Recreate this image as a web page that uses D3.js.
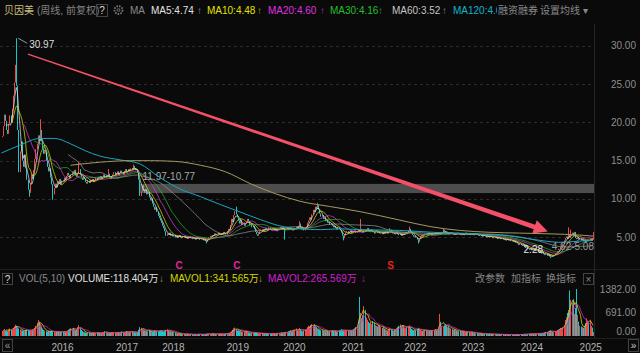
<!DOCTYPE html>
<html>
<head>
<meta charset="utf-8">
<script src="https://cdn.jsdelivr.net/npm/d3@7"></script>
<style>
body { margin: 0; background: #0a0a0a; overflow: hidden; }
svg { display: block; }
text { font-family: "Liberation Sans", Arial, "Noto Sans CJK SC", sans-serif; font-size: 10px; }
</style>
</head>
<body>
<svg id="chart"></svg>
<script>
// weekly closes, one array per x-axis year segment
const closesPre2016 = [18.2,19.5,21.0,20.2,19.0,18.5,19.8,20.9,20.0,21.8,
  23.5,25.2,27.5,24.8,19.0,13.5,16.2,17.5,15.0,14.2,
  15.8,14.0,12.5,11.2,10.8,12.0,13.2,12.6,13.8,15.2,
  16.5,17.2,18.3,17.6,19.0,17.5,16.6,15.9,16.4,15.0,
  14.2,13.6,14.0,12.8,11.9,10.6,11.4,12.0,11.5,12.3,
  12.0,12.6,11.9,12.4];
const closes2016 = [12.3,12.8,12.5,13.0,13.4,13.1,12.7,13.2,13.6,13.3,
  13.8,13.2,12.9,13.4,13.9,13.2,12.8,12.5,12.9,12.6,
  12.2,12.0,12.4,12.1,12.5,12.3,12.6,12.2,12.4,12.8,
  12.5,12.9,12.7,13.0,12.6,12.9,13.2,12.8,13.1,12.9,
  13.3,12.8,12.6,13.0,13.2,13.5,13.1,13.3,13.6,13.2,
  13.4,13.7,13.5,13.2,13.6,13.9,13.5];
const closes2017 = [13.6,13.9,13.7,14.0,13.8,14.3,14.0,13.8,13.9,13.4,
  12.5,10.4,11.0,11.8,11.2,10.8,11.3,10.6,10.9,10.2,
  9.8,10.1,9.4,9.0,8.6,8.9,8.3,7.8,7.5,7.2,
  6.9,6.5,6.2,5.8,5.2,5.5,5.3,5.6,5.2,5.4,
  5.1];
const closes2018 = [5.3,5.0,5.2,4.9,5.1,5.3,5.0,4.9,5.1,5.2,
  4.9,5.0,4.8,5.0,5.1,4.9,4.8,5.0,4.9,4.7,
  4.9,5.0,4.8,4.7,4.9,4.8,4.6,4.7,4.5,4.4,
  4.7,5.0,5.2,5.1,5.3,5.2,5.5,5.3,5.4,5.6,
  5.4,5.5,5.3,5.5,5.7,5.6,5.4,5.8,6.1,6.0,
  6.6,7.4,7.0,7.9,8.4,8.0,7.6];
const closes2019 = [7.2,6.8,7.3,6.6,6.9,6.5,6.8,7.0,7.4,7.1,
  6.6,6.8,6.3,6.5,6.1,5.7,5.4,5.2,5.5,5.8,
  6.0,5.8,6.1,5.9,6.2,6.0,5.9,6.3,6.1,5.9,
  6.0,6.2,5.9,6.1,5.8,6.0,6.1,6.3,6.2,6.0,
  6.2,5.9,6.1,6.3,6.1,6.0,6.2,6.1,5.9,6.0];
const closes2020 = [6.2,6.4,6.1,6.5,6.8,6.3,6.0,6.2,5.9,6.1,
  6.4,6.9,7.2,7.6,7.3,8.0,8.6,8.3,9.0,8.7,
  9.2,8.6,8.1,7.7,7.9,7.4,7.6,7.1,7.3,6.9,
  7.0,6.6,6.8,6.5,6.3,6.5,6.2,6.0,6.3,6.1,
  5.9,5.6,5.2,4.9,5.3,5.6,5.8,5.5,5.7,5.9,
  5.6,5.8];
const closes2021 = [5.7,5.9,5.6,5.8,6.0,5.7,6.1,5.8,5.6,5.9,
  5.7,6.0,6.2,5.9,5.7,5.8,6.0,5.7,5.5,5.7,
  5.9,5.6,5.8,5.5,5.6,5.4,5.7,5.5,5.6,5.8,
  5.5,5.7,6.0,5.7,5.5,5.6,5.4,5.5,5.7,5.4,
  5.3,5.5,5.2,5.4,5.3,5.5,5.7,5.6,5.9,6.1,
  5.8,5.5,5.3,5.1,5.2];
const closes2022 = [5.0,4.7,4.4,4.8,5.1,5.3,5.2,5.4,5.5,5.3,
  5.5,5.6,5.4,5.5,5.3,5.5,5.4,5.6,5.5,5.7,
  5.5,5.6,5.4,5.7,6.0,5.8,5.6,5.5,5.6,5.4,
  5.5,5.6,5.4,5.5,5.3,5.5,5.4,5.6,5.5,5.3,
  5.4,5.5,5.3,5.4,5.6,5.4,5.5,5.3,5.4,5.5,
  5.3];
const closes2023 = [5.4,5.3,5.5,5.4,5.2,5.3,5.4,5.2,5.1,5.3,
  5.2,5.0,5.2,5.1,5.0,5.2,5.1,4.9,5.0,5.1,
  4.9,4.8,5.0,4.9,4.8,4.9,4.7,4.8,4.6,4.7,
  4.8,4.6,4.7,4.5,4.6,4.4,4.5,4.3,4.4,4.2,
  4.0,4.2,4.0,3.9,4.1,3.8,3.6,3.7,3.5,3.4,
  3.6,3.3];
const closes2024 = [3.6,3.4,3.5,3.2,3.4,3.1,3.3,3.0,2.9,3.1,
  2.8,2.7,2.9,2.6,2.8,2.5,2.45,2.6,2.5,2.7,
  2.9,3.0,3.2,3.1,3.4,3.7,3.9,4.2,4.6,4.9,
  5.1,4.8,5.3,5.0,5.4,5.6,5.2,5.7,4.9,4.8,
  5.0,4.7,4.9,4.6,4.7,4.5,4.6,4.4,4.5,4.7,
  4.6,4.8];
const closes2025 = [4.9,4.7,5.1];

// weekly volume (万)
const volPre2016 = [150,180,210,170,160,140,190,220,180,200,
  240,280,330,300,260,220,190,170,160,150,
  140,170,200,180,150,160,170,190,210,240,
  300,390,470,420,360,280,220,180,160,140,
  130,150,120,140,160,130,120,110,130,120,
  140,110,120,130];
const vol2016 = [120,140,110,130,160,180,210,230,200,240,190,170,200,260,320,240,180,150,120,110,
  100,90,100,85,95,80,90,100,85,80,95,110,90,85,80,100,120,140,110,100,
  90,85,95,100,110,90,85,100,120,110,95,100,130,115,100,120,140];
const vol2017 = [130,120,110,125,140,120,110,105,100,115,180,260,240,200,190,170,160,150,140,170,
  160,150,130,140,160,150,140,130,150,160,170,140,130,150,180,200,170,150,140,130,120];
const vol2018 = [110,90,80,70,75,60,65,70,55,60,50,55,60,50,45,55,50,45,40,50,
  45,55,60,50,45,40,45,50,55,60,70,65,60,55,70,75,60,55,50,60,
  65,70,60,55,50,60,70,80,90,85,100,140,180,230,250,200,160];
const vol2019 = [180,150,170,130,120,110,140,160,130,110,100,90,85,80,95,110,90,80,75,70,
  80,85,70,65,75,80,70,65,60,70,75,80,70,65,75,90,85,80,100,95,
  90,110,120,100,130,150,170,140,160,180];
const vol2020 = [190,220,160,170,240,200,150,140,160,180,200,260,300,280,320,350,300,340,290,260,
  230,210,190,170,180,160,150,140,160,150,130,140,150,170,160,140,150,130,140,160,
  180,200,170,160,150,180,170,160,150,170,160,180];
const vol2021 = [200,230,260,310,420,1150,680,520,610,880,760,540,480,420,380,410,350,440,390,320,
  300,280,330,300,260,240,280,220,200,180,160,200,240,190,170,150,180,200,230,260,
  300,340,280,320,300,250,230,260,280,310,250,210,190,170,180];
const vol2022 = [170,190,240,210,180,160,150,170,190,160,150,140,160,180,170,150,160,200,190,170,
  220,650,420,300,280,320,350,300,260,290,240,220,200,180,200,170,160,150,140,150,
  130,140,120,130,110,120,130,110,100,120,110];
const vol2023 = [100,90,80,85,70,75,80,70,65,60,70,65,60,55,60,50,55,60,50,45,
  50,55,45,50,40,45,50,45,40,45,50,40,35,40,45,40,35,40,45,50,
  40,35,45,50,55,60,50,45,55,60,70,65];
const vol2024 = [60,55,70,65,60,80,75,70,85,90,80,100,120,110,130,150,170,140,120,110,
  130,150,170,190,210,240,230,260,300,470,550,680,760,1340,1060,980,1080,650,820,1382,
  620,420,300,280,260,240,300,380,520,460,400,480];
const vol2025 = [300,250,118.404];

const yearLabels = ['2016','2017','2018','2019','2020','2021','2022','2023','2024','2025'];
const priceTicks = [5, 10, 15, 20, 25, 30];
const volTicks = [1382, 691, 0];

// wicks that stick out of the bodies: [week index, price]
const wickHighs = [[13,30.97],[34,20.4],[68,14.8],[94,13.9],[116,14.5],[207,9.0],[263,7.1],[279,9.5],
  [317,7.4],[343,6.2],[360,6.4],[390,6.1],[501,6.3],[503,6.0],[523,5.7]];
const wickLows = [[24,10.3],[45,9.9],[181,4.2],[250,4.7],[302,4.6],[368,4.2],[485,2.28]];

// long averages: [week index, value]
const ma120Pts = [[0,16.0],[16,17.0],[34,17.9],[47,17.9],[61,17.2],[74,16.3],[87,15.6],[105,15.1],
  [122,14.6],[140,12.8],[158,11.3],[176,10.3],[193,9.3],[211,8.3],[229,7.3],[246,6.5],[264,6.1],
  [282,6.0],[299,6.1],[317,6.0],[335,5.95],[352,5.9],[370,5.75],[388,5.6],[405,5.5],[423,5.4],
  [441,5.3],[458,5.0],[476,4.6],[494,4.35],[511,4.5],[523,4.6]];
const ma250Pts = [[61,14.4],[87,14.8],[114,15.0],[132,15.0],[154,14.9],[176,14.4],[198,13.55],
  [220,12.0],[242,10.7],[264,9.7],[291,9.0],[317,8.35],[352,7.25],[379,6.4],[405,5.9],[432,5.65],
  [458,5.55],[485,5.45],[511,5.3],[523,5.15]];

const rangeBand = { from: 122, top: 11.97, bottom: 10.77 };
const arrowFrom = { i: 23.4, p: 28.9 };
const arrowTo = { i: 483, p: 5.76 };
const signalIdx = [157, 208, 344];
const signalType = ['C', 'C', 'S'];

const closeSegments = [closesPre2016, closes2016, closes2017, closes2018, closes2019, closes2020,
  closes2021, closes2022, closes2023, closes2024, closes2025];
const volSegments = [volPre2016, vol2016, vol2017, vol2018, vol2019, vol2020,
  vol2021, vol2022, vol2023, vol2024, vol2025];

const closes = closeSegments.flat();
const volumes = volSegments.flat();
const yearStarts = [];
let acc = 0;
closeSegments.forEach((s, k) => { if (k > 0) yearStarts.push(acc); acc += s.length; });

const candles = closes.map((c, i) => {
  const o = i ? closes[i - 1] : c;
  return { i, o, c, h: Math.max(o, c), l: Math.min(o, c), v: volumes[i], up: c >= o };
});
wickHighs.forEach(([i, h]) => candles[i].h = h);
wickLows.forEach(([i, l]) => candles[i].l = l);

const movingAvg = (arr, n) => arr.map((_, i) => i < n - 1 ? null : d3.mean(arr.slice(i - n + 1, i + 1)));

const UP = '#f04848', DOWN = '#19c6c9';

const svg = d3.select('#chart').attr('width', 640).attr('height', 353);
svg.append('rect').attr('width', 640).attr('height', 353).attr('fill', '#0a0a0a');

const x = d3.scaleLinear().domain([0, closes.length - 1]).range([1.5, 593]);
const y = d3.scaleLinear().domain([5, 30]).range([237.3, 45.7]);
const yv = d3.scaleLinear().domain([0, 1382]).range([336, 289]);

svg.append('clipPath').attr('id', 'mainClip')
  .append('rect').attr('x', 0).attr('y', 24).attr('width', 594).attr('height', 245);
svg.append('clipPath').attr('id', 'legendClip')
  .append('rect').attr('x', 0).attr('y', 0).attr('width', 497).attr('height', 22);

// separators
svg.append('line').attr('x1', 594.5).attr('x2', 594.5).attr('y1', 24).attr('y2', 338)
  .attr('stroke', '#262626');
[269.5, 338.5].forEach(v => svg.append('line').attr('x1', 0).attr('x2', 640)
  .attr('y1', v).attr('y2', v).attr('stroke', '#1e1e1e'));

// price grid + right axis
const main = svg.append('g').attr('clip-path', 'url(#mainClip)');
main.selectAll('.grid').data(priceTicks).enter().append('line')
  .attr('x1', 0).attr('x2', 594)
  .attr('y1', d => Math.round(y(d)) + 0.5).attr('y2', d => Math.round(y(d)) + 0.5)
  .attr('stroke', '#2c2c2c').attr('stroke-dasharray', '3,3');
svg.selectAll('.ptick').data(priceTicks).enter().append('text')
  .attr('x', 636).attr('y', d => y(d) + 3.5).attr('text-anchor', 'end')
  .attr('fill', '#8e8e8e').text(d => d.toFixed(2));

// grey price band
main.append('rect')
  .attr('x', x(rangeBand.from)).attr('y', y(rangeBand.top))
  .attr('width', 594 - x(rangeBand.from)).attr('height', y(rangeBand.bottom) - y(rangeBand.top))
  .attr('fill', '#7a7a7a').attr('opacity', 0.6);
main.append('text').attr('x', x(rangeBand.from) + 3).attr('y', y(rangeBand.top) - 4)
  .attr('fill', '#a8a8a8').text(`${rangeBand.top.toFixed(2)}-${rangeBand.bottom.toFixed(2)}`);

// candles
const cg = main.append('g');
cg.selectAll('.wick').data(candles.filter(d => d.h > Math.max(d.o, d.c) || d.l < Math.min(d.o, d.c)))
  .enter().append('line')
  .attr('x1', d => Math.round(x(d.i)) + 0.5).attr('x2', d => Math.round(x(d.i)) + 0.5)
  .attr('y1', d => y(d.h)).attr('y2', d => y(d.l))
  .attr('stroke', d => d.up ? UP : DOWN);
cg.selectAll('.body').data(candles).enter().append('rect')
  .attr('x', d => Math.round(x(d.i))).attr('width', 1)
  .attr('y', d => y(Math.max(d.o, d.c)))
  .attr('height', d => Math.max(1, Math.abs(y(d.o) - y(d.c))))
  .attr('fill', d => d.up ? UP : DOWN);

// moving averages
const maLine = d3.line().defined(d => d != null).x((d, i) => x(i)).y(d => y(d));
const computed = [[5, '#e6e6e6'], [10, '#e2e200'], [20, '#e03ce0'], [30, '#22c02a'], [60, '#9c9c9c']];
computed.forEach(([n, col]) => {
  main.append('path').attr('d', maLine(movingAvg(closes, n)))
    .attr('fill', 'none').attr('stroke', col).attr('stroke-width', 0.8).attr('opacity', 0.9);
});
const ptLine = d3.line().x(d => x(d[0])).y(d => y(d[1])).curve(d3.curveMonotoneX);
main.append('path').attr('d', ptLine(ma120Pts)).attr('fill', 'none')
  .attr('stroke', '#1aa6bd').attr('stroke-width', 1);
main.append('path').attr('d', ptLine(ma250Pts)).attr('fill', 'none')
  .attr('stroke', '#a39a5e').attr('stroke-width', 1);

// trend arrow
const ax0 = x(arrowFrom.i), ay0 = y(arrowFrom.p), ax1 = x(arrowTo.i), ay1 = y(arrowTo.p);
const len = Math.hypot(ax1 - ax0, ay1 - ay0);
const ux = (ax1 - ax0) / len, uy = (ay1 - ay0) / len, nx = -uy, ny = ux;
const headLen = 14, headHalf = 7, w0 = 1.2, w1 = 4.6;
const bx = ax1 - ux * headLen, by = ay1 - uy * headLen;
const arrowPts = [
  [ax0 + nx * w0 / 2, ay0 + ny * w0 / 2], [bx + nx * w1 / 2, by + ny * w1 / 2],
  [bx + nx * headHalf, by + ny * headHalf], [ax1, ay1],
  [bx - nx * headHalf, by - ny * headHalf], [bx - nx * w1 / 2, by - ny * w1 / 2],
  [ax0 - nx * w0 / 2, ay0 - ny * w0 / 2]];
svg.append('polygon').attr('points', arrowPts.map(p => p.join(',')).join(' '))
  .attr('fill', '#f4506a');

// high / low labels
const hiC = candles[13];
svg.append('line').attr('x1', x(hiC.i) + 2).attr('y1', y(hiC.h)).attr('x2', x(hiC.i) + 11).attr('y2', y(hiC.h) + 5)
  .attr('stroke', '#bbb').attr('stroke-width', 0.8);
svg.append('text').attr('x', x(hiC.i) + 13).attr('y', y(hiC.h) + 10)
  .attr('fill', '#dcdcdc').text(hiC.h.toFixed(2));
const loC = candles[485];
svg.append('text').attr('x', x(loC.i) - 7).attr('y', y(loC.l) - 5).attr('text-anchor', 'end')
  .attr('fill', '#e6e6e6').text(loC.l.toFixed(2));
svg.append('text').attr('x', x(closes.length - 1) + 1).attr('y', y(3.86) + 3.5).attr('text-anchor', 'end')
  .attr('fill', '#9a9a9a').text('4.62-5.08');

// buy / sell markers
signalIdx.forEach((idx, k) => {
  const col = signalType[k] === 'C' ? '#e0249c' : '#e62222';
  const mx = x(idx);
  svg.append('path').attr('d', `M${mx - 1.5},${262.5} L${mx},${261} L${mx + 1.5},${262.5}`)
    .attr('fill', 'none').attr('stroke', col).attr('stroke-width', 0.8);
  svg.append('text').attr('x', mx).attr('y', 269).attr('text-anchor', 'middle')
    .attr('fill', col).attr('font-size', 7).attr('font-weight', 'bold').text(signalType[k]);
});

// volume panel
const vg = svg.append('g');
vg.selectAll('.vbar').data(candles).enter().append('rect')
  .attr('x', d => Math.round(x(d.i))).attr('width', 1)
  .attr('y', d => yv(d.v)).attr('height', d => Math.max(0.5, 336 - yv(d.v)))
  .attr('fill', d => d.up ? UP : DOWN);
const vLine = d3.line().defined(d => d != null).x((d, i) => x(i)).y(d => yv(d));
[[5, '#d8d800'], [10, '#d020d0']].forEach(([n, col]) => {
  vg.append('path').attr('d', vLine(movingAvg(volumes, n)))
    .attr('fill', 'none').attr('stroke', col).attr('stroke-width', 0.8);
});
svg.selectAll('.vtick').data(volTicks).enter().append('text')
  .attr('x', 636).attr('y', d => Math.min(yv(d) + 3.5, 334.5)).attr('text-anchor', 'end')
  .attr('fill', '#8e8e8e').text(d => d.toFixed(2));

// year axis
svg.selectAll('.year').data(yearLabels).enter().append('text')
  .attr('x', (d, k) => x(yearStarts[k])).attr('y', 351).attr('text-anchor', 'middle')
  .attr('fill', '#b4b4b4').text(d => d);

const box = (bx0, by0, w, h, label, col) => {
  svg.append('rect').attr('x', bx0 + 0.5).attr('y', by0 + 0.5).attr('width', w).attr('height', h)
    .attr('fill', 'none').attr('stroke', '#444');
  svg.append('text').attr('x', bx0 + w / 2 + 0.5).attr('y', by0 + h / 2 + 4).attr('text-anchor', 'middle')
    .attr('fill', col).text(label);
};
box(2, 339, 10, 12, '«', '#999');
box(628, 339, 10, 12, '»', '#ccc');

// top legend
const legend = [
  [4, '贝因美', '#c9bd7c'], [37, '(周线, 前复权)', '#858585'], [130, 'MA', '#8a8a8a'],
  [151, 'MA5:4.74', '#e2e2e2'], [197, '↑', '#888'],
  [207, 'MA10:4.48', '#e2e200'], [257, '↑', '#9a9a30'],
  [268, 'MA20:4.60', '#e030e0'], [320, '↑', '#b030b0'],
  [330, 'MA30:4.16', '#22c02a'], [378, '↑', '#22a02a'],
  [392, 'MA60:3.52', '#c6c6c6'], [442, '↑', '#888']];
legend.forEach(([lx, t, col]) => svg.append('text').attr('x', lx).attr('y', 14).attr('fill', col).text(t));
svg.append('text').attr('clip-path', 'url(#legendClip)').attr('x', 453).attr('y', 14)
  .attr('fill', '#10b4cc').text('MA120:4.6');
box(96, 4, 11, 12, '?', '#ddd');
svg.append('circle').attr('cx', 118.5).attr('cy', 10).attr('r', 4).attr('fill', 'none')
  .attr('stroke', '#777').attr('stroke-width', 1.8).attr('stroke-dasharray', '1.6,1.1');
svg.append('circle').attr('cx', 118.5).attr('cy', 10).attr('r', 1.4).attr('fill', 'none')
  .attr('stroke', '#777').attr('stroke-width', 0.9);
[[498, '融资融券'], [540, '设置均线'], [583, '▾']].forEach(([lx, t]) =>
  svg.append('text').attr('x', lx).attr('y', 14).attr('fill', '#8a8a8a').text(t));

// volume legend
box(2, 273, 10, 11, '?', '#ddd');
[[19, 'VOL(5,10)', '#8a8a8a'], [68, 'VOLUME:118.404万', '#e0e0e0'], [159, '↓', '#888'],
 [170, 'MAVOL1:341.565万', '#d8d800'], [258, '↓', '#9a9a30'],
 [268, 'MAVOL2:265.569万', '#d020d0'], [361, '↓', '#b020b0'],
 [475, '改参数', '#858585'], [511, '加指标', '#858585'], [546, '换指标', '#858585']]
  .forEach(([lx, t, col]) => svg.append('text').attr('x', lx).attr('y', 282).attr('fill', col).text(t));
box(583, 273, 10, 11, '×', '#888');
</script>
</body>
</html>
